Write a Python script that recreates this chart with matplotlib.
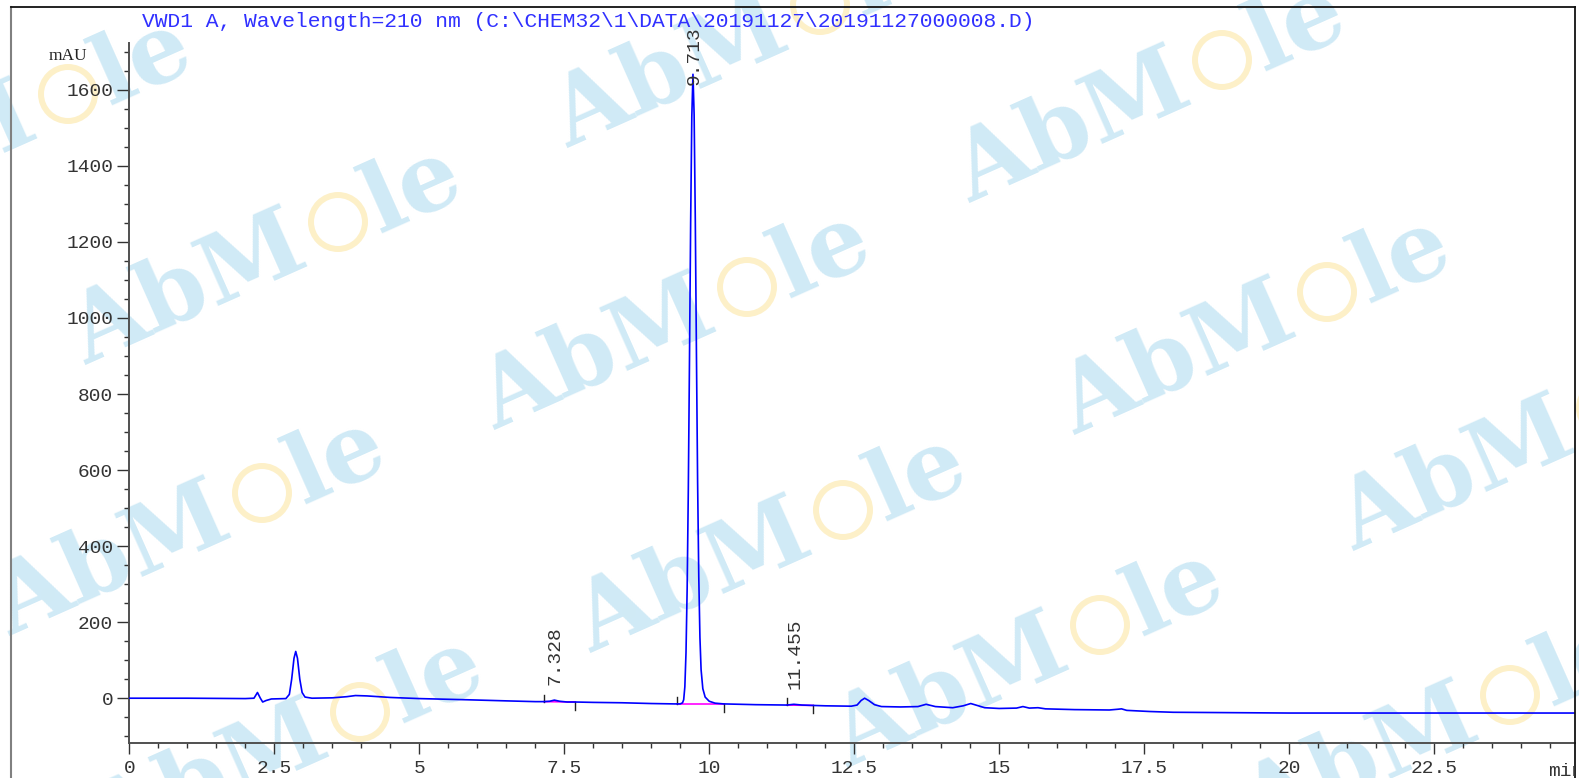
import matplotlib
matplotlib.use('Agg')
import matplotlib.pyplot as plt
from matplotlib.lines import Line2D
from matplotlib.patches import Ellipse
from matplotlib.transforms import Bbox, TransformedBbox
import numpy as np

# chromatogram trace (min, mAU)
time_min = [0.0, 1.0, 2.0, 2.15, 2.21, 2.26, 2.30, 2.36, 2.45, 2.70, 2.76, 2.80, 2.84, 2.87,
            2.90, 2.94, 2.98, 3.03, 3.15, 3.5, 3.75, 3.90, 4.1, 4.5, 5.0, 5.8, 6.5, 7.0,
            7.15, 7.25, 7.33, 7.42, 7.55, 7.69, 8.0, 8.5, 9.0, 9.40, 9.50, 9.54, 9.56, 9.58,
            9.60, 9.62, 9.64, 9.66, 9.68, 9.70, 9.72, 9.74, 9.76, 9.78, 9.80, 9.82, 9.84,
            9.86, 9.89, 9.93, 10.0, 10.1, 10.25, 10.8, 11.34, 11.46, 11.6, 11.79, 12.0,
            12.45, 12.55, 12.62, 12.68, 12.75, 12.85, 12.97, 13.3, 13.6, 13.74, 13.9, 14.2,
            14.38, 14.51, 14.62, 14.75, 15.0, 15.3, 15.41, 15.52, 15.67, 15.8, 16.3, 16.9,
            17.05, 17.11, 17.2, 17.6, 18.0, 19.0, 20.0, 22.0, 24.93]
signal_mau = [0, 0, -1, 0, 15, 0, -10, -6, -2, -1, 10, 50, 105, 123,
              105, 50, 15, 3, 0, 1, 4, 7, 6, 2, -1, -4, -7, -9,
              -9, -8, -5, -8, -10, -10, -11, -12, -14, -15, -15, -12, -4, 30,
              120, 290, 550, 890, 1250, 1530, 1641, 1535, 1260, 905, 570, 320, 160,
              75, 25, 3, -8, -13, -15, -17, -18, -16, -18, -19, -20,
              -21, -18, -6, 0, -6, -17, -22, -23, -22, -16, -22, -25,
              -20, -14, -19, -25, -27, -26, -22, -26, -25, -28, -30, -31,
              -29, -28, -32, -35, -37, -38, -39, -39, -39]

# integration events
peak_rt = [7.328, 9.713, 11.455]
peak_top = [-5, 1641, -16]
peak_start = [7.15, 9.45, 11.34]
peak_end = [7.69, 10.25, 11.79]
base_start = [-9, -15, -18]
base_end = [-10, -15, -19]

title = r'VWD1 A, Wavelength=210 nm (C:\CHEM32\1\DATA\20191127\20191127000008.D)'

W, H = 1579, 778
MONO = 'Liberation Mono'


def fx(px):
    return px / W


def fy(py):
    return 1 - py / H


fig = plt.figure(figsize=(W / 100, H / 100), dpi=100)

# watermark (o centres in pixels)
wm_o = [(68, 94), (338, 222), (820, 5), (1222, 60), (747, 287), (1327, 292),
        (262, 493), (843, 510), (1100, 625), (360, 712), (1510, 695), (1606, 408)]
ang = np.deg2rad(24)
c, s = np.cos(ang), np.sin(ang)
wm_blue = '#d0eaf6'
wm_yel = '#fdf0c8'
for ox, oy in wm_o:
    px, py = ox + 28 * s, oy + 28 * c
    ax_, ay_ = px - 40 * c, py + 40 * s
    lx, ly = px + 33 * c, py - 33 * s
    fig.text(fx(ax_), fy(ay_), 'AbM', rotation=24, rotation_mode='anchor', ha='right',
             va='baseline', fontsize=69, family='DejaVu Serif', weight='bold',
             color=wm_blue, zorder=-2)
    fig.text(fx(lx), fy(ly), 'le', rotation=24, rotation_mode='anchor', ha='left',
             va='baseline', fontsize=69, family='DejaVu Serif', weight='bold',
             color=wm_blue, zorder=-2)
    fig.add_artist(Ellipse((fx(ox), fy(oy)), 54 / W, 54 / H, transform=fig.transFigure,
                           fill=False, edgecolor=wm_yel, lw=4.3, zorder=-2))
    fig.add_artist(Ellipse((fx(ox - 214), fy(oy + 102)), 14 / W, 14 / H,
                           transform=fig.transFigure, facecolor=wm_yel,
                           edgecolor='none', zorder=-2))

ax = fig.add_axes([fx(129.3), (H - 743.3) / H, (1575 - 129.3) / W, (743.3 - 42.7) / H])
ax.patch.set_visible(False)

ax.plot(time_min, signal_mau, color='#0000ff', lw=1.2, zorder=3)
for x0, x1, y0, y1 in zip(peak_start, peak_end, base_start, base_end):
    ax.plot([x0, x1], [y0, y1], color='#ff00ff', lw=1.2, zorder=2)
    ax.plot([x0, x0], [y0, y0 + 18], color='#222222', lw=1.0, zorder=2)
    ax.plot([x1, x1], [y1 - 20, y1], color='#222222', lw=1.0, zorder=2)
for rt, top in zip(peak_rt, peak_top):
    ax.text(rt + 0.02, min(top + 40, 1614), '%.3f' % rt, rotation=90, ha='center',
            va='bottom', fontsize=14, family=MONO, color='#333333')

ax.set_xlim(0, 24.93)
ax.set_ylim(-118.6, 1724)
ax.set_xticks(np.arange(0, 24, 2.5))
ax.set_xticks(np.arange(0, 25, 0.5), minor=True)
ax.set_yticks(np.arange(0, 1601, 200))
ax.set_yticks(np.arange(-100, 1701, 50), minor=True)
ax.xaxis.set_major_formatter(matplotlib.ticker.FormatStrFormatter('%g'))
for side in ['top', 'right']:
    ax.spines[side].set_visible(False)
for side in ['left', 'bottom']:
    ax.spines[side].set_color('#505050')
    ax.spines[side].set_linewidth(1.4)
ax.tick_params(axis='x', which='major', length=8, width=1.0, color='#333333', pad=4,
               labelsize=14, labelcolor='#333333')
ax.tick_params(axis='x', which='minor', length=3.5, width=1.0, color='#333333')
ax.tick_params(axis='y', which='major', length=9, width=1.0, color='#333333', pad=2.5,
               labelsize=14, labelcolor='#333333')
ax.tick_params(axis='y', which='minor', length=3.6, width=1.0, color='#333333')
for lab in ax.get_xticklabels() + ax.get_yticklabels():
    lab.set_family(MONO)

fig.text(fx(142), fy(26.7), title, ha='left', va='baseline', fontsize=15.3, family=MONO,
         color='#3030ff')
fig.text(fx(68), fy(56), 'mAU', ha='center', va='center', fontsize=12.5,
         family='Liberation Serif', color='#222222')
mt = fig.text(fx(1548), fy(771), 'min', ha='left', va='center', fontsize=14, family=MONO,
              color='#333333')
mt.set_clip_box(TransformedBbox(Bbox([[0, 0], [fx(1575), 1]]), fig.transFigure))
mt.set_clip_on(True)

# page frame
fig.add_artist(Line2D([fx(11), fx(11)], [fy(7.3), 0], color='#808080', lw=1.5))
fig.add_artist(Line2D([fx(11), fx(1575)], [fy(7.3), fy(7.3)], color='#111111', lw=1.3))
fig.add_artist(Line2D([fx(1575), fx(1575)], [fy(7.3), 0], color='#111111', lw=1.3))

fig.savefig('out.png', dpi=100)
